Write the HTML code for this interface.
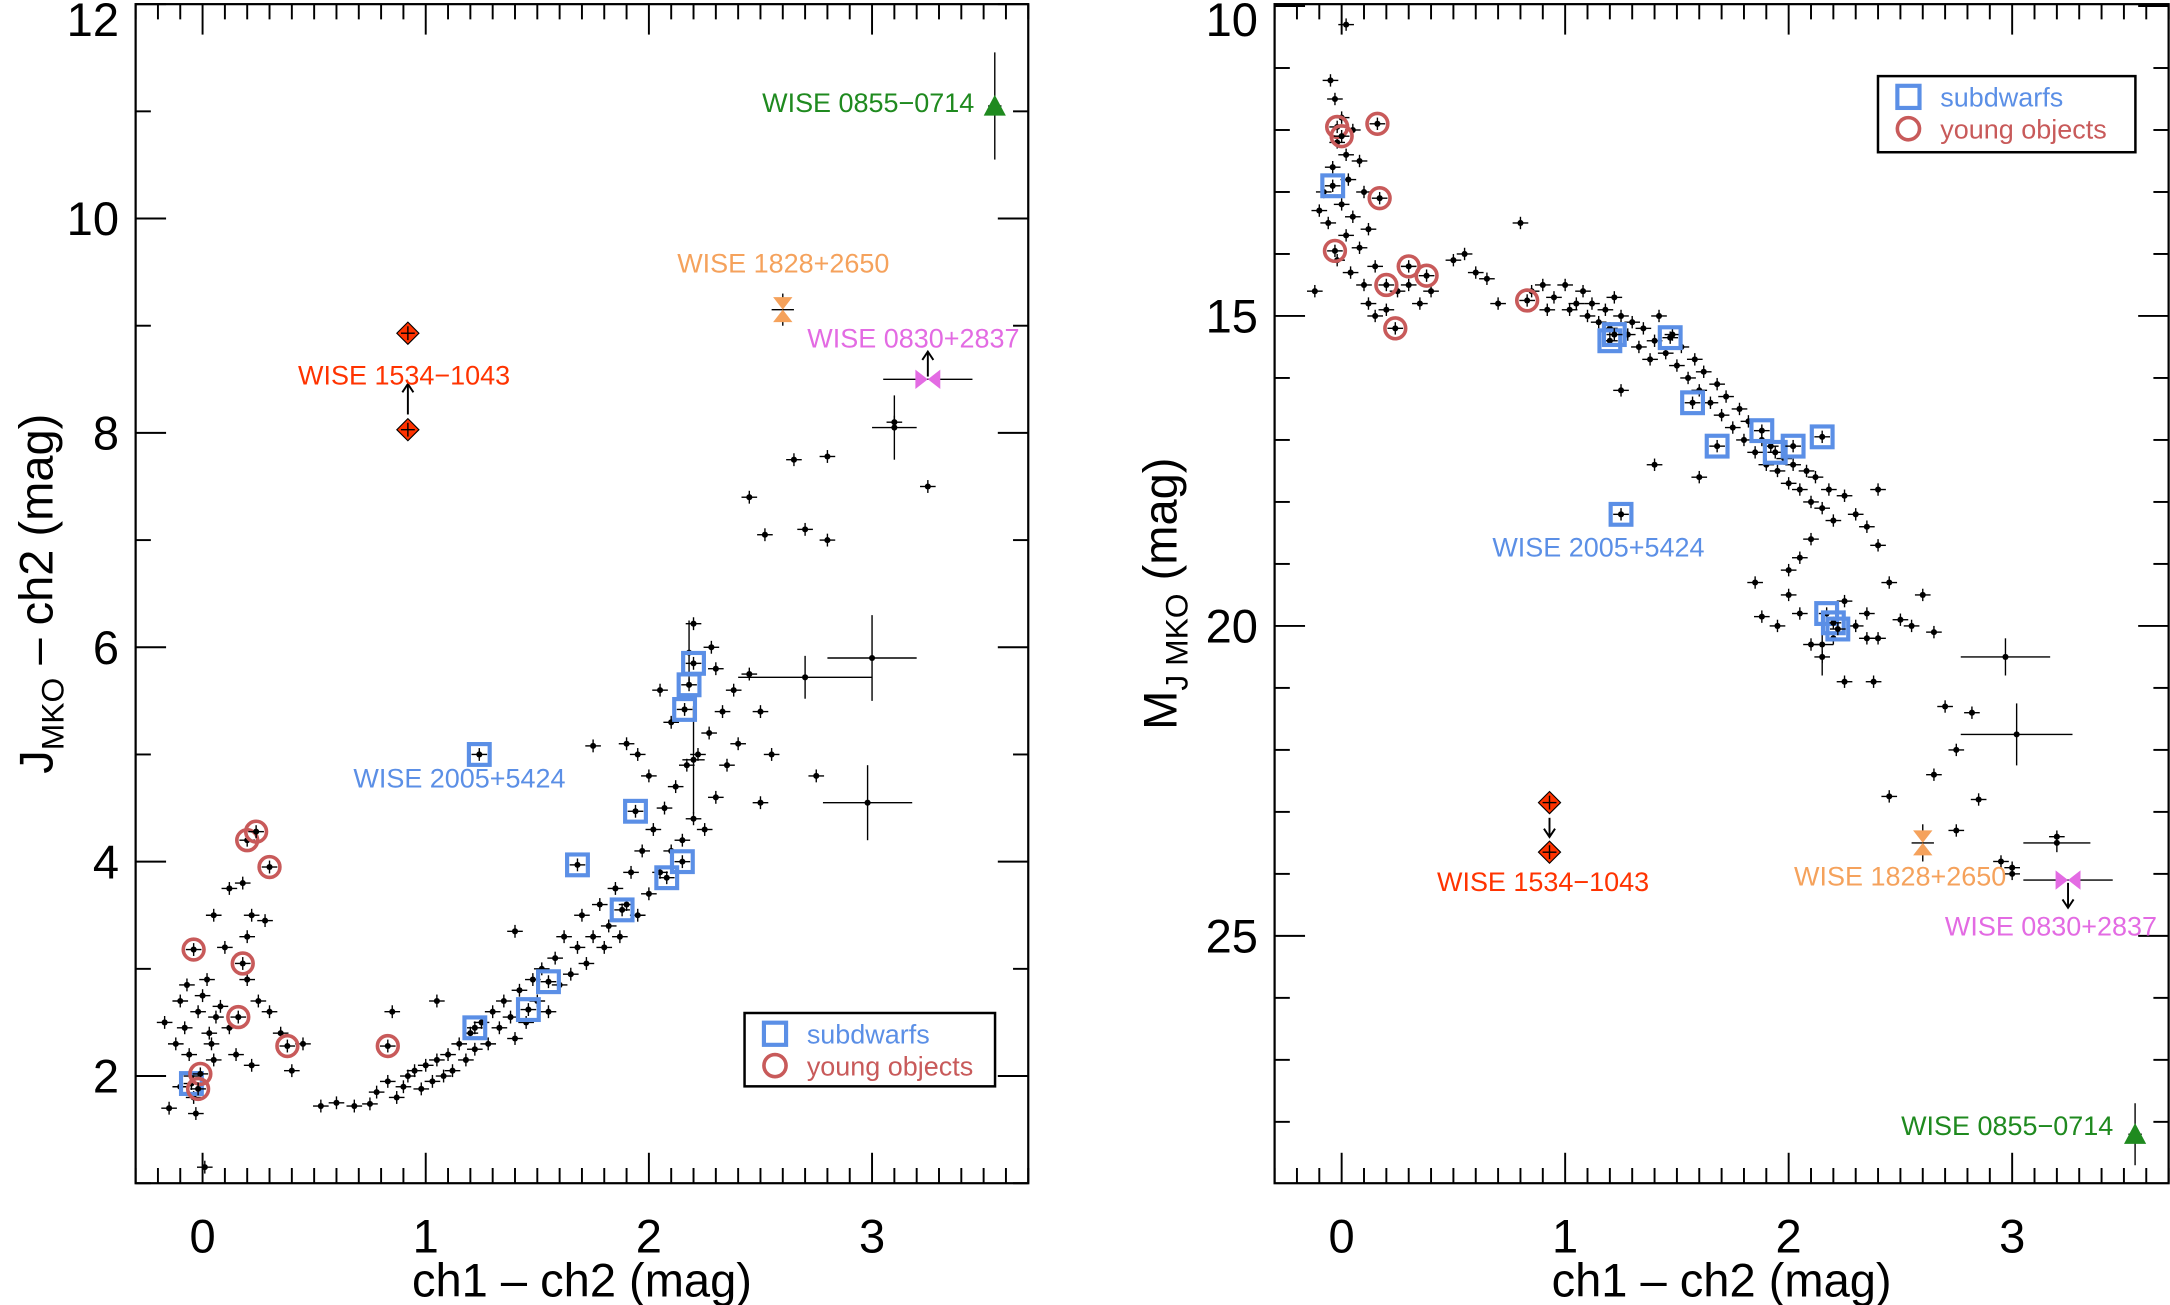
<!DOCTYPE html>
<html><head><meta charset="utf-8"><style>
html,body{margin:0;padding:0;background:#fff;}
svg{display:block;font-family:"Liberation Sans",sans-serif;}
</style></head><body>
<svg id="fig" width="2170" height="1305" viewBox="0 0 1568 943" preserveAspectRatio="none" xmlns="http://www.w3.org/2000/svg">
<rect width="1568" height="943" fill="#fff"/>
</svg>
<script>
// ---------- LEFT PANEL DATA ----------
const leftX = [-0.17,-0.12,-0.1,-0.08,-0.06,-0.05,-0.04,-0.03,-0.02,0,0.02,0.03,0.05,0.06,-0.15,-0.1,0.01,0.04,-0.07,0.08,0.1,0.05,0.12,0.18,0.22,0.28,0.2,0.25,0.3,0.35,0.15,0.22,0.4,0.45,0.12,0.2,
0.53,0.6,0.68,0.75,0.78,0.83,0.87,0.9,0.92,0.95,0.98,1.0,1.03,1.05,1.08,1.1,1.12,1.15,1.18,1.2,1.22,1.25,1.28,1.3,1.33,1.35,1.38,1.4,1.42,1.45,1.48,1.5,1.52,1.55,1.58,1.6,1.62,1.65,1.68,1.7,1.72,1.75,1.78,1.8,1.82,1.85,1.87,1.9,1.92,1.95,1.97,2.0,2.02,2.05,2.07,2.1,2.12,2.15,2.17,2.2,2.22,2.25,2.27,2.3,2.33,2.35,2.38,2.4,2.45,2.5,2.55,2.28,2.1,2.0,1.95,1.9,1.75,2.2,2.05,2.3,
2.45,2.65,2.8,2.52,2.7,2.8,3.1,3.25,2.75,2.5,1.05,1.4,0.85];
const leftY = [2.5,2.3,2.7,2.45,2.2,2.0,1.8,1.65,2.6,2.75,2.9,2.4,2.15,2.55,1.7,1.9,1.15,2.3,2.85,2.65,3.2,3.5,3.75,3.8,3.5,3.45,2.9,2.7,2.6,2.4,2.2,2.1,2.05,2.3,2.45,3.3,
1.72,1.75,1.72,1.74,1.85,1.95,1.8,1.9,2.0,2.05,1.88,2.1,1.95,2.15,2.0,2.2,2.05,2.3,2.15,2.4,2.25,2.5,2.3,2.6,2.45,2.7,2.55,2.35,2.8,2.5,2.9,2.7,3.0,2.6,3.1,2.85,3.3,2.95,3.2,3.5,3.05,3.3,3.6,3.2,3.4,3.75,3.3,3.6,3.9,3.5,4.1,3.7,4.3,3.9,4.5,4.1,4.7,4.2,4.9,4.4,5.0,4.3,5.2,4.6,5.4,4.9,5.6,5.1,5.75,5.4,5.0,6.0,5.3,4.8,5.0,5.1,5.08,6.22,5.6,5.8,
7.4,7.75,7.78,7.05,7.1,7.0,8.1,7.5,4.8,4.55,2.7,3.35,2.6];
const leftBigX = [3.0,2.98,2.7,3.1,2.18,2.2];
const leftBigY = [5.9,4.55,5.72,8.05,5.95,4.95];
const leftBigEx = [0.2,0.2,0.3,0.1,0.03,0.05];
const leftBigEy = [0.4,0.35,0.2,0.3,0.3,0.5];
const leftSubX = [-0.05,1.24,1.22,1.46,1.55,1.68,1.88,1.94,2.15,2.2,2.18,2.16,2.08];
const leftSubY = [1.93,5.0,2.45,2.62,2.88,3.97,3.55,4.47,4.0,5.85,5.65,5.42,3.85];
const leftYoungX = [-0.04,0.18,0.16,0.2,0.24,0.3,0.38,0.83,-0.01,-0.02];
const leftYoungY = [3.18,3.05,2.55,4.2,4.28,3.95,2.28,2.28,2.02,1.88];
const leftXTicks = ["0","1","2","3"];
const leftYTicks = ["2","4","6","8","10","12"];

// ---------- RIGHT PANEL DATA ----------
const rightX = [0.02,-0.05,-0.03,0,-0.02,0.02,-0.04,0.03,-0.08,0.0,0.05,-0.06,0.02,-0.1,0.08,-0.02,0.04,-0.12,0.1,0.12,0.15,0.2,0.25,0.3,0.05,0.08,0.1,0.12,0.15,0.35,0.4,
0.5,0.55,0.6,0.65,0.7,0.8,0.85,0.9,0.92,0.95,1.0,1.02,1.05,1.08,1.1,1.12,1.15,1.18,1.2,1.22,1.25,1.28,1.3,1.33,1.35,1.38,1.4,1.42,1.45,1.48,1.5,1.52,1.55,1.58,1.6,1.62,1.65,1.68,1.7,1.72,1.75,1.78,1.8,1.82,1.85,1.88,1.9,1.92,1.95,1.98,2.0,2.02,2.05,2.08,2.1,2.12,2.15,2.18,2.2,2.25,2.3,2.35,2.4,2.1,2.05,1.4,1.25,1.6,2.0,
2.0,2.05,2.1,2.15,2.2,2.25,2.3,2.35,2.4,2.45,2.5,2.55,2.38,1.88,1.95,2.25,2.4,2.6,1.85,2.65,
2.65,2.7,2.75,2.82,2.85,2.95,3.0,3.2,2.75,2.45,2.35,3.0];
const rightY = [10.3,11.2,11.5,11.8,12.2,12.4,12.6,12.8,13.0,13.2,13.4,13.5,13.7,13.3,13.9,14.1,14.3,14.6,14.5,14.8,15.0,14.9,14.6,14.5,12.0,12.5,13.0,13.6,14.2,14.8,14.6,
14.1,14.0,14.3,14.4,14.8,13.5,14.6,14.5,14.9,14.7,14.5,14.9,14.8,14.6,15.0,14.8,15.1,14.9,15.2,14.7,15.0,15.3,15.1,15.5,15.2,15.7,15.4,15.0,15.6,15.3,15.8,15.5,16.0,15.7,16.2,15.9,16.4,16.1,16.6,16.3,16.8,16.5,17.0,16.7,17.2,17.0,17.4,17.1,17.5,17.3,17.7,17.4,17.8,17.5,18.0,17.6,18.1,17.8,18.3,17.9,18.2,18.4,17.8,18.6,18.9,17.4,16.2,17.6,19.1,
19.5,19.8,20.3,20.5,20.2,19.6,20.0,19.8,20.2,19.3,19.9,20.0,20.9,19.85,20.0,20.9,18.7,19.5,19.3,20.1,
22.4,21.3,22.0,21.4,22.8,23.8,24.0,23.4,23.3,22.75,20.2,23.9];
const rightBigX = [2.97,3.02,3.2,2.15];
const rightBigY = [20.5,21.75,23.5,20.3];
const rightBigEx = [0.2,0.25,0.15,0.05];
const rightBigEy = [0.3,0.5,0.15,0.5];
const rightSubX = [-0.04,1.2,1.22,1.47,1.57,1.68,1.88,1.94,2.02,2.15,2.17,2.2,2.22,1.25];
const rightSubY = [12.9,15.4,15.3,15.35,16.4,17.1,16.85,17.2,17.1,16.95,19.8,19.95,20.05,18.2];
const rightYoungX = [-0.02,0.0,0.16,0.17,-0.03,0.2,0.24,0.3,0.38,0.83];
const rightYoungY = [11.95,12.1,11.9,13.1,13.95,14.5,15.2,14.2,14.35,14.75];
const rightXTicks = ["0","1","2","3"];
const rightYTicks = ["10","15","20","25"];

const NS = "http://www.w3.org/2000/svg";
const svg = document.getElementById('fig');
function mk(tag, attrs, parent){const e=document.createElementNS(NS,tag);for(const k in attrs)e.setAttribute(k,attrs[k]);(parent||svg).appendChild(e);return e;}

function panel(P){
  const g = mk('g',{});
  
  
  const sx = v => P.x0 + (v - P.xmin)/(P.xmax-P.xmin)*(P.x1-P.x0);
  const sy = P.inv ? (v => P.y0 + (v - P.ymin)/(P.ymax-P.ymin)*(P.y1-P.y0))
                   : (v => P.y0 + (P.ymax - v)/(P.ymax-P.ymin)*(P.y1-P.y0));
  const box = mk('rect',{x:P.x0,y:P.y0,width:P.x1-P.x0,height:P.y1-P.y0,fill:'none',stroke:'#000','stroke-width':1.6},g);
  
  
  for(let i=Math.ceil(P.xmin*10);i<=Math.floor(P.xmax*10);i++){
    const v=i/10, X=sx(v), major=(i%10===0), L=major?22:11;
    mk('line',{x1:X,y1:P.y1,x2:X,y2:P.y1-L,stroke:'#000','stroke-width':1.4},g);
    mk('line',{x1:X,y1:P.y0,x2:X,y2:P.y0+L,stroke:'#000','stroke-width':1.4},g);
  }
  P.xt.forEach(t=>{
    const tx = mk('text',{x:sx(+t),y:P.y1+50,'font-size':34,'text-anchor':'middle'},g);
    tx.textContent=t;
    
    
  });
  for(let v=Math.ceil(P.ymin/P.ymin_step)*P.ymin_step; v<=P.ymax; v+=P.ymin_step){
    const Y=sy(v), major=(Math.abs(v/P.ymaj - Math.round(v/P.ymaj))<1e-6), L=major?22:11;
    mk('line',{x1:P.x0,y1:Y,x2:P.x0+L,y2:Y,stroke:'#000','stroke-width':1.4},g);
    mk('line',{x1:P.x1,y1:Y,x2:P.x1-L,y2:Y,stroke:'#000','stroke-width':1.4},g);
  }
  P.yt.forEach(t=>{
    const Y=Math.max(sy(+t)+12, 26);
    const tx = mk('text',{x:P.x0-12,y:Y,'font-size':34,'text-anchor':'end'},g);
    tx.textContent=t;
    
    
  });
  const xtitle = mk('text',{x:(P.x0+P.x1)/2,y:P.y1+82,'font-size':34,'text-anchor':'middle'},g);
  xtitle.textContent='ch1 \u2013 ch2 (mag)';
  
  
  const yt = mk('text',{transform:`translate(${P.ytx},${(P.y0+P.y1)/2}) rotate(-90)`,'font-size':34,'text-anchor':'middle'},g);
  yt.innerHTML = P.ytitle;
  
  
  const eb=(x,y,ex,ey)=>{
    mk('line',{x1:sx(x-ex),y1:sy(y),x2:sx(x+ex),y2:sy(y),stroke:'#000','stroke-width':1},g);
    mk('line',{x1:sx(x),y1:sy(y-ey),x2:sx(x),y2:sy(y+ey),stroke:'#000','stroke-width':1},g);
  };
  const dot=(x,y)=>{const c=mk('circle',{cx:sx(x),cy:sy(y),r:2.2,fill:'#000'},g);
    
    };
  P.px.forEach((x,i)=>{eb(x,P.py[i],0.035,P.dey);dot(x,P.py[i]);});
  P.bx.forEach((x,i)=>{eb(x,P.by[i],P.bex[i],P.bey[i]);dot(x,P.by[i]);});
  P.sx.forEach((x,i)=>{eb(x,P.sy[i],0.035,P.dey);dot(x,P.sy[i]);
    const r=mk('rect',{x:sx(x)-7.5,y:sy(P.sy[i])-7.5,width:15,height:15,fill:'none',stroke:'#5b8fe6','stroke-width':3},g);
    
    });
  P.yx.forEach((x,i)=>{eb(x,P.yy[i],0.035,P.dey);dot(x,P.yy[i]);
    const c=mk('circle',{cx:sx(x),cy:sy(P.yy[i]),r:7.5,fill:'none',stroke:'#c85a5a','stroke-width':2.6},g);
    
    });
  const lab=(txt,x,y,col,anchor,name)=>{const t=mk('text',{x:x,y:y,'font-size':19.5,fill:col,'text-anchor':anchor||'middle'},g);t.textContent=txt;
    
    };
  const S=P.sp;
  eb(S.t855[0],S.t855[1],0.03,S.t855[2]);
  mk('polygon',{points:`${sx(S.t855[0])-8},${sy(S.t855[1])+7} ${sx(S.t855[0])+8},${sy(S.t855[1])+7} ${sx(S.t855[0])},${sy(S.t855[1])-8}`,fill:'#1f8a1f'},g);
  {const X=sx(S.h1828[0]),Y=sy(S.h1828[1]);eb(S.h1828[0],S.h1828[1],0.05,S.h1828[2]);
   mk('polygon',{points:`${X-7},${Y-9} ${X+7},${Y-9} ${X-7},${Y+9} ${X+7},${Y+9}`,fill:'#f5a25c'},g);}
  {const X=sx(S.b830[0]),Y=sy(S.b830[1]);eb(S.b830[0],S.b830[1],0.2,0);
   mk('polygon',{points:`${X-9},${Y-7} ${X-9},${Y+7} ${X+9},${Y-7} ${X+9},${Y+7}`,fill:'#e36be3'},g);
   const d=S.arrowDir; mk('line',{x1:X,y1:Y-d*2,x2:X,y2:Y-d*20,stroke:'#000','stroke-width':1.4},g);
   mk('polyline',{points:`${X-4},${Y-d*14} ${X},${Y-d*20} ${X+4},${Y-d*14}`,fill:'none',stroke:'#000','stroke-width':1.4},g);}
  S.d1534.forEach(v=>{const X=sx(S.d1534x),Y=sy(v);
    mk('polygon',{points:`${X},${Y-8} ${X+8},${Y} ${X},${Y+8} ${X-8},${Y}`,fill:'#ff3300',stroke:'#000','stroke-width':0.8},g);
    mk('line',{x1:X-5,y1:Y,x2:X+5,y2:Y,stroke:'#000','stroke-width':1},g);
    mk('line',{x1:X,y1:Y-5,x2:X,y2:Y+5,stroke:'#000','stroke-width':1},g);});
  {const X=sx(S.d1534x),Ya=sy(S.d1534[0]),Yb=sy(S.d1534[1]);const d=S.arrowDir;
   const lo=Math.max(Ya,Yb), hi=Math.min(Ya,Yb);
   if(d>0){const ys=lo-11, ye=ys-22;
     mk('line',{x1:X,y1:ys,x2:X,y2:ye,stroke:'#000','stroke-width':1.4},g);
     mk('polyline',{points:`${X-4},${ye+6} ${X},${ye} ${X+4},${ye+6}`,fill:'none',stroke:'#000','stroke-width':1.4},g);}
   else{const ys=hi+11, ye=lo-11;
     mk('line',{x1:X,y1:ys,x2:X,y2:ye,stroke:'#000','stroke-width':1.4},g);
     mk('polyline',{points:`${X-4},${ye-6} ${X},${ye} ${X+4},${ye-6}`,fill:'none',stroke:'#000','stroke-width':1.4},g);}}
  S.labels.forEach(l=>lab(l[0],l[1],l[2],l[3],l[4],l[5]));
  const L=P.leg;
  const lg=mk('g',{},g);
  
  
  mk('rect',{x:L[0],y:L[1],width:L[2],height:L[3],fill:'#fff',stroke:'#000','stroke-width':1.8},lg);
  mk('rect',{x:L[0]+14,y:L[1]+7,width:16,height:16,fill:'none',stroke:'#5b8fe6','stroke-width':3},lg);
  mk('circle',{cx:L[0]+22,cy:L[1]+38,r:8,fill:'none',stroke:'#c85a5a','stroke-width':2.6},lg);
  const t1=mk('text',{x:L[0]+45,y:L[1]+22,'font-size':19.5,fill:'#5b8fe6'},lg);t1.textContent='subdwarfs';
  
  
  const t2=mk('text',{x:L[0]+45,y:L[1]+45,'font-size':19.5,fill:'#c85a5a'},lg);t2.textContent='young objects';
  
  
}

panel({name:'left-panel',x0:98,x1:743,y0:3,y1:855,xmin:-0.3,xmax:3.7,ymin:1.0,ymax:12.0,ymaj:2,ymin_step:1,
  xt:leftXTicks,yt:leftYTicks,ytx:38,ytitle:'J<tspan font-size="23" dy="8">MKO</tspan><tspan dy="-8"> \u2013 ch2 (mag)</tspan>',
  px:leftX,py:leftY,bx:leftBigX,by:leftBigY,bex:leftBigEx,bey:leftBigEy,sx:leftSubX,sy:leftSubY,yx:leftYoungX,yy:leftYoungY,dey:0.06,
  sp:{t855:[3.55,11.05,0.5],h1828:[2.6,9.15,0.15],b830:[3.25,8.5],d1534x:0.92,d1534:[8.93,8.03],arrowDir:1,
    labels:[['WISE 0855\u22120714',704,81,'#1f8a1f','end','label-wise-0855'],['WISE 1828+2650',566,197,'#f5a25c','middle','label-wise-1828'],
      ['WISE 0830+2837',660,251,'#e36be3','middle','label-wise-0830'],['WISE 1534\u22121043',292,278,'#ff3300','middle','label-wise-1534'],
      ['WISE 2005+5424',332,569,'#5b8fe6','middle','label-wise-2005']]},
  leg:[538,732,181,53]});

panel({name:'right-panel',inv:true,x0:921,x1:1567,y0:3,y1:855,xmin:-0.3,xmax:3.7,ymin:9.97,ymax:28.99,ymaj:5,ymin_step:1,
  xt:rightXTicks,yt:rightYTicks,ytx:850,ytitle:'M<tspan font-size="23" dy="8">J MKO</tspan><tspan dy="-8">  (mag)</tspan>',
  px:rightX,py:rightY,bx:rightBigX,by:rightBigY,bex:rightBigEx,bey:rightBigEy,sx:rightSubX,sy:rightSubY,yx:rightYoungX,yy:rightYoungY,dey:0.1,
  sp:{t855:[3.55,28.2,0.5],h1828:[2.6,23.5,0.3],b830:[3.25,24.1],d1534x:0.93,d1534:[22.85,23.65],arrowDir:-1,
    labels:[['WISE 0855\u22120714',1527,820,'#1f8a1f','end','label-wise-0855'],['WISE 1828+2650',1373,640,'#f5a25c','middle','label-wise-1828'],
      ['WISE 0830+2837',1482,676,'#e36be3','middle','label-wise-0830'],['WISE 1534\u22121043',1115,644,'#ff3300','middle','label-wise-1534'],
      ['WISE 2005+5424',1155,402,'#5b8fe6','middle','label-wise-2005']]},
  leg:[1357,55,186,55]});
</script>
</body></html>
